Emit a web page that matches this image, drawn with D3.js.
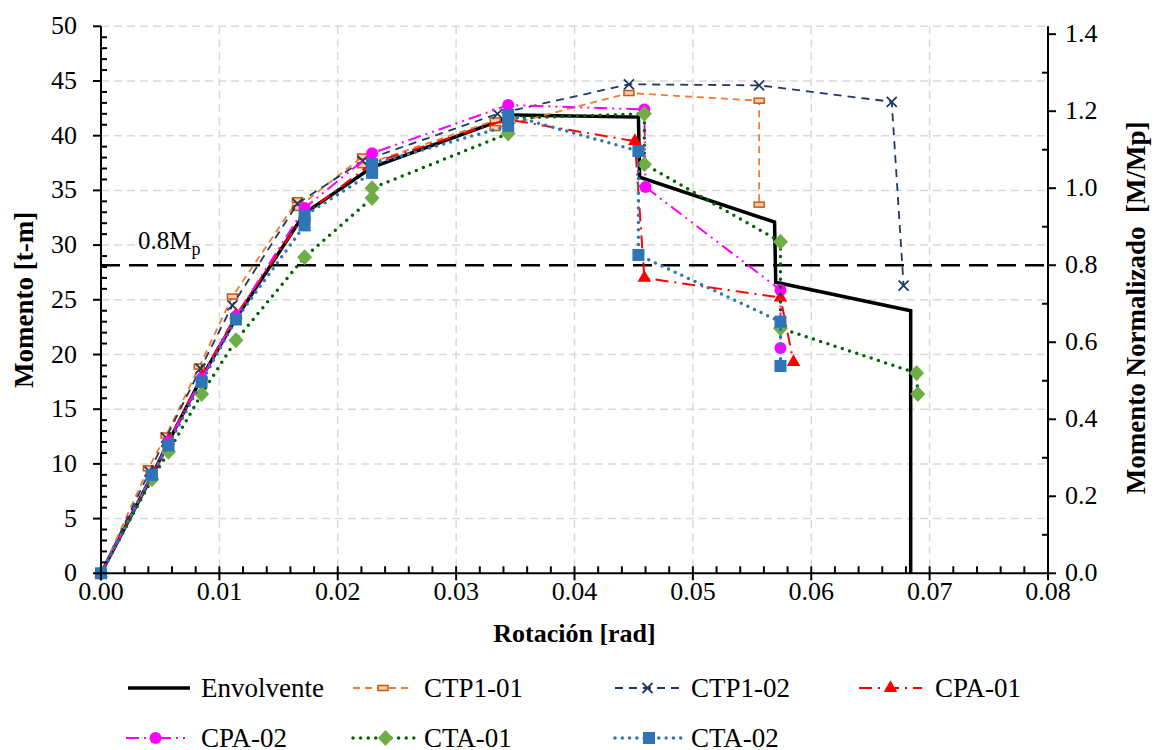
<!DOCTYPE html>
<html><head><meta charset="utf-8">
<script src="https://cdn.jsdelivr.net/npm/d3@7"></script>
<style>body{margin:0;background:#fff}svg{display:block}</style>
</head><body><svg id="c" width="1156" height="750"></svg>
<script>
// ---- data ----
const envX = [0,0.0043,0.0057,0.0085,0.0114,0.0172,0.0229,0.0350,0.0454,0.0455,0.0569,0.0570,0.0684,0.0684];
const envM = [0,8.9,12.0,17.9,23.3,32.9,37.1,41.9,41.7,36.2,32.1,26.6,24.0,0];
const ctp101X = [0,0.0040,0.0055,0.0083,0.0111,0.0166,0.0166,0.0221,0.0221,0.0333,0.0333,0.0446,0.0556,0.0556];
const ctp101M = [0,9.6,12.6,18.9,25.3,34.1,33.4,38.1,37.3,41.4,40.7,43.9,43.2,33.7];
const ctp102X = [0,0.0041,0.0055,0.0084,0.0111,0.0166,0.0221,0.0335,0.0446,0.0556,0.0668,0.0678];
const ctp102M = [0,9.3,12.4,18.7,24.5,33.8,37.7,42.0,44.7,44.6,43.1,26.3];
const cpa01X = [0,0.0043,0.0057,0.0085,0.0114,0.0172,0.0229,0.0343,0.0451,0.0459,0.0574,0.0585];
const cpa01M = [0,8.9,12.1,18.0,23.6,32.8,37.5,41.5,39.5,27.0,25.2,19.3];
const cpa02X = [0,0.0043,0.0057,0.0085,0.0114,0.0172,0.0229,0.0344,0.0459,0.0460,0.0574,0.0574];
const cpa02M = [0,8.9,12.0,17.8,23.5,33.4,38.4,42.8,42.4,35.3,25.9,20.6];
const cta01X = [0,0.0043,0.0057,0.0085,0.0114,0.0172,0.0229,0.0229,0.0344,0.0345,0.0459,0.0459,0.0574,0.0574,0.0689,0.0690];
const cta01M = [0,8.6,11.1,16.4,21.3,28.9,34.3,35.2,40.2,41.6,42.0,37.4,30.3,22.4,18.3,16.4];
const cta02X = [0,0.0043,0.0057,0.0085,0.0114,0.0172,0.0172,0.0229,0.0229,0.0344,0.0344,0.0454,0.0454,0.0574,0.0574];
const cta02M = [0,9.0,11.7,17.5,23.2,31.8,32.7,36.6,37.4,40.9,41.9,38.6,29.1,23.0,18.95];
const Mp = 35.2;
const xTicks = [0,0.01,0.02,0.03,0.04,0.05,0.06,0.07,0.08];
const yTicks = [0,5,10,15,20,25,30,35,40,45,50];
const y2Ticks = [0,0.2,0.4,0.6,0.8,1.0,1.2,1.4];

const series = [
 {name:"Envolvente", xs:envX, ys:envM, color:"#000", width:3.5, dash:null, cap:"butt", marker:null},
 {name:"CTP1-01", xs:ctp101X, ys:ctp101M, color:"#ED7D31", width:1.8, dash:"7,5", cap:"butt", marker:"rect"},
 {name:"CTP1-02", xs:ctp102X, ys:ctp102M, color:"#1F3864", width:1.8, dash:"8,6", cap:"butt", marker:"x"},
 {name:"CPA-01", xs:cpa01X, ys:cpa01M, color:"#FF0000", width:2, dash:"13,6,2,6", cap:"butt", marker:"tri"},
 {name:"CPA-02", xs:cpa02X, ys:cpa02M, color:"#FF00FF", width:2, dash:"13,5,2,5,2,5", cap:"butt", marker:"circ"},
 {name:"CTA-01", xs:cta01X, ys:cta01M, color:"#006400", width:3.5, dash:"0,7.6", cap:"round", marker:"dia"},
 {name:"CTA-02", xs:cta02X, ys:cta02M, color:"#2E75B6", width:3.5, dash:"0,7.3", cap:"round", marker:"sq"}
];

const FONT = "Liberation Serif";
const svg = d3.select("#c");
const L=101, R=1048, T=26.3, B=573.3;
const x = d3.scaleLinear().domain([0,0.08]).range([L,R]);
const y = d3.scaleLinear().domain([0,50]).range([B,T]);
const y2 = d3.scaleLinear().domain([0,50/Mp]).range([B,T]);

// grid
const g = svg.append("g");
g.selectAll(".gx").data(xTicks.slice(1)).join("line")
 .attr("x1",d=>x(d)).attr("x2",d=>x(d)).attr("y1",T).attr("y2",B)
 .attr("stroke","#d9d9d9").attr("stroke-width",1.5).attr("stroke-dasharray","8,5");
g.selectAll(".gy").data(yTicks.slice(1)).join("line")
 .attr("x1",L).attr("x2",R).attr("y1",d=>y(d)).attr("y2",d=>y(d))
 .attr("stroke","#d9d9d9").attr("stroke-width",1.5).attr("stroke-dasharray","8,5");

// 0.8 Mp line
svg.append("line").attr("x1",L).attr("x2",R).attr("y1",y(0.8*Mp)).attr("y2",y(0.8*Mp))
 .attr("stroke","#000").attr("stroke-width",2.5).attr("stroke-dasharray","19,9");
const lbl = svg.append("text").attr("x",138).attr("y",y(0.8*Mp)-16).style("font-family",FONT).style("font-size","25px");
lbl.append("tspan").text("0.8M");
lbl.append("tspan").style("font-size","18px").attr("dy",6).text("p");

// markers
function drawMarker(sel, type, color){
  if(type==="rect") sel.append("rect").attr("x",-5).attr("y",-2.5).attr("width",10).attr("height",5).attr("fill","#F8CBAD").attr("stroke","#C55A11").attr("stroke-width",1.5);
  else if(type==="x") sel.append("path").attr("d","M-5,-5L5,5M-5,5L5,-5").attr("stroke",color).attr("stroke-width",1.8).attr("fill","none");
  else if(type==="tri") sel.append("path").attr("d",d3.symbol(d3.symbolTriangle,80)()).attr("fill",color);
  else if(type==="circ") sel.append("circle").attr("r",6).attr("fill",color);
  else if(type==="dia") sel.append("path").attr("d","M0,-8L7.5,0L0,8L-7.5,0Z").attr("fill","#70AD47");
  else if(type==="sq") sel.append("rect").attr("x",-6).attr("y",-6).attr("width",12).attr("height",12).attr("fill","#2E75B6");
}

const line = d3.line().x(d=>x(d[0])).y(d=>y(d[1]));
series.forEach(s=>{
  const pts = s.xs.map((v,i)=>[v,s.ys[i]]);
  const p = svg.append("path").attr("d",line(pts)).attr("fill","none").attr("stroke",s.color)
    .attr("stroke-width",s.width).attr("stroke-linecap",s.cap).attr("stroke-linejoin","miter");
  if(s.dash) p.attr("stroke-dasharray",s.dash);
  if(s.marker){
    pts.forEach(pt=>{
      const m = svg.append("g").attr("transform",`translate(${x(pt[0])},${y(pt[1])})`);
      drawMarker(m,s.marker,s.color);
    });
  }
});

// axes
const ax = svg.append("g").attr("stroke","#000").attr("stroke-width",2);
ax.append("line").attr("x1",L).attr("x2",L).attr("y1",T).attr("y2",B);
ax.append("line").attr("x1",R).attr("x2",R).attr("y1",T).attr("y2",B);
ax.append("line").attr("x1",L).attr("x2",R).attr("y1",B).attr("y2",B);
d3.range(0,51,1).forEach(v=>{
  if(v%5===0) ax.append("line").attr("x1",L-8).attr("x2",L).attr("y1",y(v)).attr("y2",y(v));
  else ax.append("line").attr("x1",L).attr("x2",L+6).attr("y1",y(v)).attr("y2",y(v));
});
d3.range(0,41,1).forEach(i=>{
  const v=i*0.002;
  if(i%5===0) ax.append("line").attr("x1",x(v)).attr("x2",x(v)).attr("y1",B-7).attr("y2",B+7);
  else ax.append("line").attr("x1",x(v)).attr("x2",x(v)).attr("y1",B-7).attr("y2",B);
});
d3.range(0,15,1).forEach(i=>{
  const v=i*0.1;
  if(i%2===0) ax.append("line").attr("x1",R).attr("x2",R+8).attr("y1",y2(v)).attr("y2",y2(v));
  else ax.append("line").attr("x1",R-6).attr("x2",R).attr("y1",y2(v)).attr("y2",y2(v));
});

const fs="26px";
function txt(sel){ return sel.style("font-family",FONT).style("font-size",fs); }
txt(svg.selectAll(".xl").data(xTicks).join("text")).attr("x",d=>x(d)).attr("y",B+27).attr("text-anchor","middle").text(d=>d3.format(".2f")(d));
txt(svg.selectAll(".yl").data(yTicks).join("text")).attr("x",L-24).attr("y",d=>y(d)+8).attr("text-anchor","end").text(d=>d);
txt(svg.selectAll(".y2l").data(y2Ticks).join("text")).attr("x",R+17).attr("y",d=>y2(d)+8).attr("text-anchor","start").text(d=>d3.format(".1f")(d));

txt(svg.append("text")).attr("x",(L+R)/2).attr("y",642).attr("text-anchor","middle").style("font-weight","bold").text("Rotación [rad]");
txt(svg.append("text")).attr("transform",`translate(33,${(T+B)/2}) rotate(-90)`).attr("text-anchor","middle").style("font-weight","bold").style("font-size","27px").text("Momento [t-m]");
txt(svg.append("text")).attr("transform",`translate(1145,${(T+B)/2+8}) rotate(-90)`).attr("text-anchor","middle").style("font-weight","bold").style("font-size","27px").style("white-space","pre").text("Momento Normalizado  [M/Mp]");

// legend
const legPos = [[128,190,688],[353,413,688],[615,680,688],[859,922,688],[126,185,738],[353,418,738],[615,683,738]];
const textX = [201,424,691,935,201,424,691];
series.forEach((s,i)=>{
  const [a,b,yy]=legPos[i];
  const p=svg.append("line").attr("x1",a).attr("x2",b).attr("y1",yy).attr("y2",yy).attr("stroke",s.color).attr("stroke-width",s.width).attr("stroke-linecap",s.cap);
  if(s.dash) p.attr("stroke-dasharray",s.dash);
  if(s.marker){ drawMarker(svg.append("g").attr("transform",`translate(${(a+b)/2},${yy})`),s.marker,s.color); }
  txt(svg.append("text")).attr("x",textX[i]).attr("y",yy+9).style("font-size","27px").text(s.name);
});
</script></body></html>
